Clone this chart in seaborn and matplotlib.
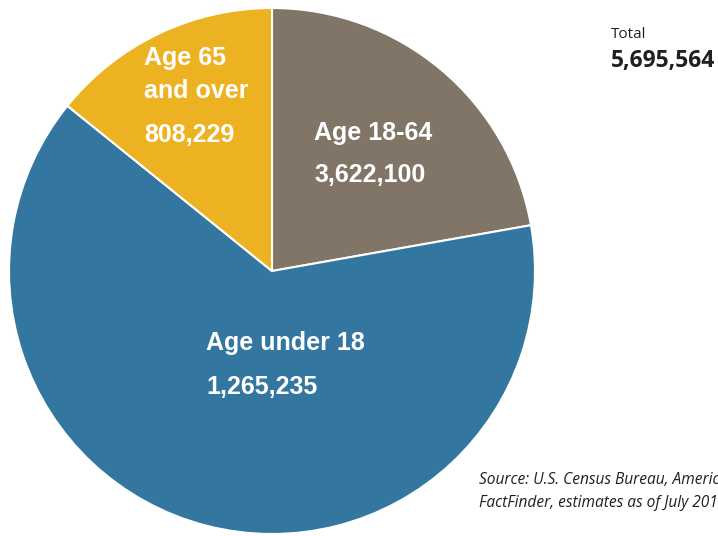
import matplotlib
matplotlib.use("Agg")
import matplotlib.pyplot as plt
import seaborn as sns

# Data (slice sizes as drawn; labels as printed in the reference)
slice_values = [1265235, 3622100, 808229]
slice_colors = ["#807567", "#33769f", "#edb221"]
label_titles = ["Age 18-64", "Age under 18", "Age 65\nand over"]
label_numbers = ["3,622,100", "1,265,235", "808,229"]
total_label = "Total"
total_value = "5,695,564"
source_lines = ["Source: U.S. Census Bureau, American",
                "FactFinder, estimates as of July 2018"]

sns.set_theme(style="white")
W, H = 718, 536
fig = plt.figure(figsize=(W / 100, H / 100), dpi=100)
fig.patch.set_facecolor("white")

cx, cy, r = 272, 271, 263
ax = fig.add_axes([0, 0, 1, 1])
ax.pie(slice_values, colors=slice_colors, startangle=90, counterclock=False,
       radius=1, wedgeprops=dict(edgecolor="white", linewidth=1.5))
ax.set_xlim(-cx / r, (W - cx) / r)
ax.set_ylim(-(H - cy) / r, cy / r)
ax.set_aspect("auto")
ax.axis("off")


def fx(x):
    return x / W


def fy(y):
    return 1 - y / H


lab_font = dict(family=["Liberation Sans", "DejaVu Sans"], fontsize=18,
                fontweight="bold", color="white", va="baseline", ha="left")

# Age 18-64 (brown slice)
fig.text(fx(314), fy(140), label_titles[0], **lab_font)
fig.text(fx(314), fy(182), label_numbers[0], **lab_font)
# Age under 18 (blue slice)
fig.text(fx(206), fy(350), label_titles[1], **lab_font)
fig.text(fx(206), fy(394), label_numbers[1], **lab_font)
# Age 65 and over (yellow slice)
t1, t2 = label_titles[2].split("\n")
fig.text(fx(144), fy(65), t1, **lab_font)
fig.text(fx(144), fy(98), t2, **lab_font)
fig.text(fx(144), fy(142), label_numbers[2], **lab_font)

# Total
fig.text(fx(611), fy(38), total_label, family=["Open Sans", "DejaVu Sans"],
         fontsize=11, color="#231f20", va="baseline", ha="left")
fig.text(fx(611), fy(67), total_value, family=["Open Sans", "DejaVu Sans"],
         fontsize=16.5, fontweight="bold", color="#231f20", va="baseline", ha="left")

# Source
fig.text(fx(479), fy(484), source_lines[0], family=["Open Sans", "DejaVu Sans"],
         fontsize=11.2, style="italic", color="#231f20", va="baseline", ha="left")
fig.text(fx(479), fy(507), source_lines[1], family=["Open Sans", "DejaVu Sans"],
         fontsize=11.2, style="italic", color="#231f20", va="baseline", ha="left")

fig.savefig("out.png", dpi=100)
